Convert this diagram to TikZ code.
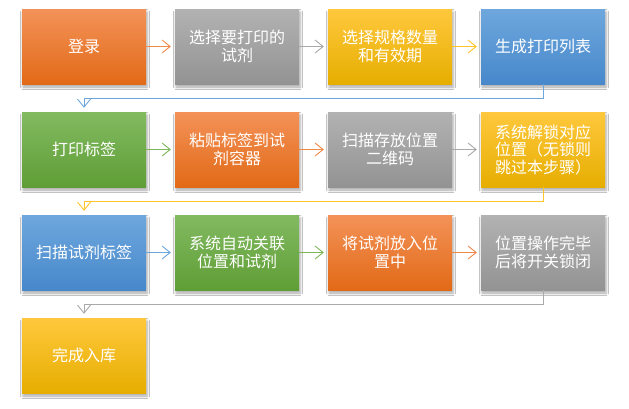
\documentclass[tikz,border=0pt]{standalone}
\usepackage{fontspec}
\newfontfamily\cjk{Noto Sans CJK SC}
\usetikzlibrary{arrows.meta,shadows.blur}
\definecolor{orT}{HTML}{F39258}\definecolor{orM}{HTML}{F47C2E}\definecolor{orB}{HTML}{E26A17}
\definecolor{grT}{HTML}{B2B2B2}\definecolor{grM}{HTML}{A5A5A5}\definecolor{grB}{HTML}{939393}
\definecolor{goT}{HTML}{FFC83D}\definecolor{goM}{HTML}{FFC000}\definecolor{goB}{HTML}{E6AE00}
\definecolor{blT}{HTML}{6EA7DD}\definecolor{blM}{HTML}{5A9AD6}\definecolor{blB}{HTML}{4788CB}
\definecolor{gnT}{HTML}{82BA61}\definecolor{gnM}{HTML}{70AD47}\definecolor{gnB}{HTML}{5F9E36}
\definecolor{orL}{HTML}{F08A4B}\definecolor{grL}{HTML}{A9A9A9}\definecolor{goL}{HTML}{FFC52A}
\definecolor{blL}{HTML}{6CA6DD}\definecolor{gnL}{HTML}{7DB75A}
\tikzset{
  box/.style={minimum width=124pt,minimum height=75pt,inner sep=0pt,text=white,
    align=center,font=\cjk\fontsize{16}{17.5}\selectfont,
    blur shadow={shadow xshift=1pt,shadow yshift=-3pt,shadow blur radius=2.5pt,shadow opacity=35}},
  orbox/.style={box,top color=orT,middle color=orM,bottom color=orB},
  grbox/.style={box,top color=grT,middle color=grM,bottom color=grB},
  gobox/.style={box,top color=goT,middle color=goM,bottom color=goB},
  blbox/.style={box,top color=blT,middle color=blM,bottom color=blB},
  gnbox/.style={box,top color=gnT,middle color=gnM,bottom color=gnB},
  link/.style={draw=#1,line width=0.9pt,shorten >=4pt,
    -{Straight Barb[length=8pt,width=13pt,line width=0.9pt]}},
}
\begin{document}
\begin{tikzpicture}[x=1pt,y=-1pt]
\useasboundingbox (0,0) rectangle (629,408);
\fill[white] (0,0) rectangle (629,408);
% row 1
\node[orbox] (b1) at (84,46.5) {登录};
\node[grbox] (b2) at (237,46.5) {选择要打印的\\试剂};
\node[gobox] (b3) at (390,46.5) {选择规格数量\\和有效期};
\node[blbox] (b4) at (543,46.5) {生成打印列表};
% row 2
\node[gnbox] (b5) at (84,149.5) {打印标签};
\node[orbox] (b6) at (237,149.5) {粘贴标签到试\\剂容器};
\node[grbox] (b7) at (390,149.5) {扫描存放位置\\二维码};
\node[gobox] (b8) at (543,149.5) {系统解锁对应\\位置（无锁则\\跳过本步骤）};
% row 3
\node[blbox] (b9) at (84,252.5) {扫描试剂标签};
\node[gnbox] (b10) at (237,252.5) {系统自动关联\\位置和试剂};
\node[orbox] (b11) at (390,252.5) {将试剂放入位\\置中};
\node[grbox] (b12) at (543,252.5) {位置操作完毕\\后将开关锁闭};
% row 4
\node[gobox] (b13) at (84,355.5) {完成入库};
% connectors
\draw[link=orL] (b1) -- (b2);
\draw[link=grL] (b2) -- (b3);
\draw[link=goL] (b3) -- (b4);
\draw[link=blL] (b4.south) -- ++(0,14) -| (b5.north);
\draw[link=gnL] (b5) -- (b6);
\draw[link=orL] (b6) -- (b7);
\draw[link=grL] (b7) -- (b8);
\draw[link=goL] (b8.south) -- ++(0,14) -| (b9.north);
\draw[link=blL] (b9) -- (b10);
\draw[link=gnL] (b10) -- (b11);
\draw[link=orL] (b11) -- (b12);
\draw[link=grL] (b12.south) -- ++(0,14) -| (b13.north);
\end{tikzpicture}
\end{document}
